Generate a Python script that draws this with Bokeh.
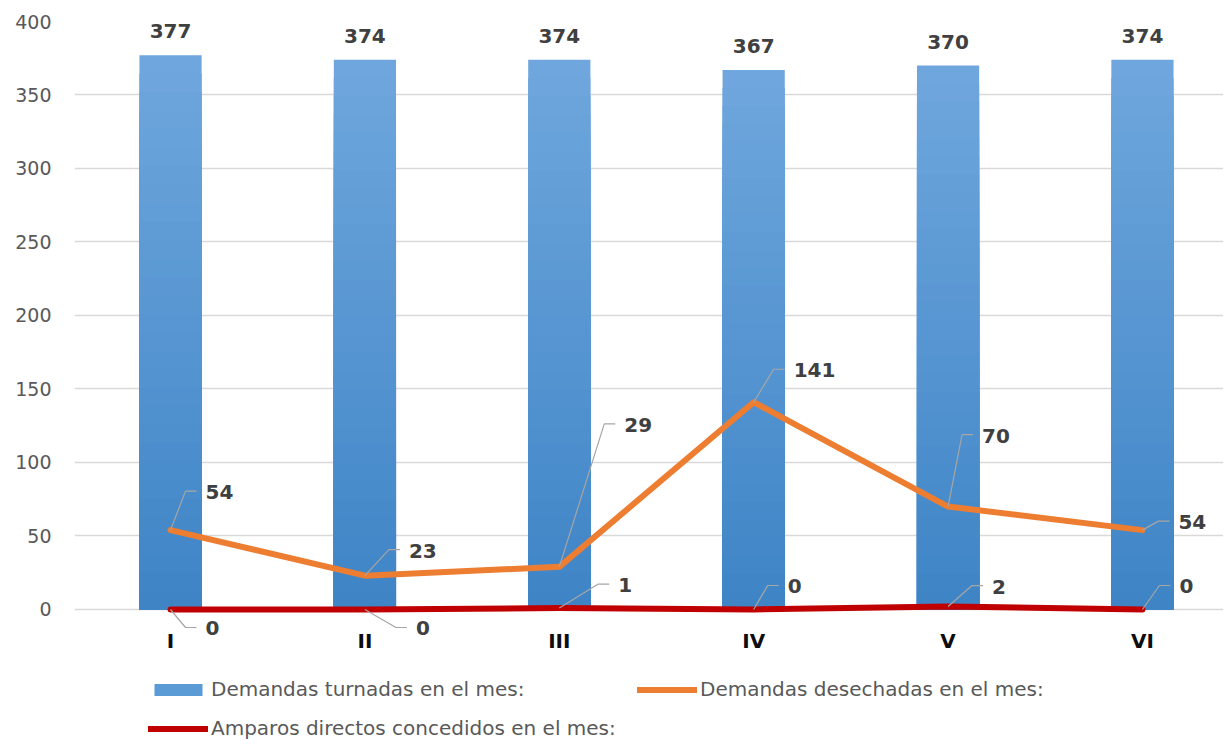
import numpy as np
from bokeh.plotting import figure
from bokeh.layouts import column
from bokeh.models import ColumnDataSource, Legend, LegendItem, FixedTicker, Range1d
from bokeh.core.properties import value
from bokeh.embed import file_html
from bokeh.resources import INLINE

# ---------------- data ----------------
categories = ["I", "II", "III", "IV", "V", "VI"]
turnadas = [377, 374, 374, 367, 370, 374]
desechadas = [54, 23, 29, 141, 70, 54]
amparos = [0, 0, 1, 0, 2, 0]
y_ticks = [0, 50, 100, 150, 200, 250, 300, 350, 400]
series_names = ["Demandas turnadas en el mes:",
                "Demandas desechadas en el mes:",
                "Amparos directos concedidos en el mes:"]

# ---------------- style / label placement (screen px, dx right, dy up) ----------------
des_elbow = [(15, 39), (24, 26), (45, 143), (20, 33), (14, 72), (16, 9)]
amp_elbow = [(15, -18), (31, -18), (39, 24), (14, 24), (24, 21), (17, 24)]
LEADER_LEN = 11
TEXT_GAP = 9
BAR_LABEL_GAP = 24

W = 1223
FRAME_W, FRAME_H = 1149, 617
X0, X1 = -0.494, 5.417
Y0, Y1 = -19.73, 400
PX_X = FRAME_W / (X1 - X0)
PX_Y = FRAME_H / (Y1 - Y0)

FONT = "DejaVu Sans"
TOP_C = np.array([0x6f, 0xa7, 0xdd])
BOT_C = np.array([0x3e, 0x84, 0xc6])
BLUE = "#5b9bd5"
ORANGE = "#ed7d31"
RED = "#c00000"

xs = list(range(len(categories)))

p = figure(width=W, height=658,
           x_range=Range1d(X0, X1), y_range=Range1d(Y0, Y1),
           output_backend="svg", toolbar_location=None,
           min_border_left=74, min_border_top=21, min_border_right=0,
           min_border_bottom=20, outline_line_color=None,
           background_fill_color="white", border_fill_color="white")

# bars with vertical gradient (stacked overlapping bands, tallest first)
N = 30
bx, btop, bcol = [], [], []
for k in range(N):
    t = (k + 0.5) / N
    c = TOP_C * (1 - t) + BOT_C * t
    col = "#%02x%02x%02x" % tuple(int(round(v)) for v in c)
    for i, v in enumerate(turnadas):
        bx.append(xs[i])
        btop.append(v * (1 - k / N))
        bcol.append(col)
bar_src = ColumnDataSource(dict(x=bx, top=btop, color=bcol))
p.vbar(x="x", top="top", bottom=0, width=0.32, fill_color="color",
       line_color=None, source=bar_src)

p.line(xs, desechadas, line_color=ORANGE, line_width=6,
       line_join="round", line_cap="round")
p.line(xs, amparos, line_color=RED, line_width=6,
       line_join="round", line_cap="round")

# leader lines + labels
def leaders(vals, elbows):
    mx, my, tx, ty = [], [], [], []
    for i, v in enumerate(vals):
        ex = xs[i] + elbows[i][0] / PX_X
        ey = v + elbows[i][1] / PX_Y
        endx = ex + LEADER_LEN / PX_X
        mx.append([xs[i], ex, endx])
        my.append([v, ey, ey])
        tx.append(endx + TEXT_GAP / PX_X)
        ty.append(ey - 1 / PX_Y)
    return mx, my, tx, ty

for vals, elbows in ((desechadas, des_elbow), (amparos, amp_elbow)):
    mx, my, tx, ty = leaders(vals, elbows)
    p.multi_line(mx, my, line_color="#a6a6a6", line_width=1.2)
    p.text(tx, ty, text=[str(v) for v in vals], text_font=value(FONT),
           text_font_style="bold", text_font_size="20px", text_color="#404040",
           text_align="left", text_baseline="middle")

p.text(xs, [v + BAR_LABEL_GAP / PX_Y for v in turnadas], text=[str(v) for v in turnadas],
       text_font=value(FONT), text_font_style="bold", text_font_size="20px",
       text_color="#404040", text_align="center", text_baseline="middle")

# axes
p.xaxis.ticker = FixedTicker(ticks=xs)
p.xaxis.major_label_overrides = {i: c for i, c in enumerate(categories)}
p.xaxis.axis_line_color = None
p.xaxis.major_tick_line_color = None
p.xaxis.minor_tick_line_color = None
p.xaxis.major_tick_out = 0
p.xaxis.major_label_standoff = -10
p.xaxis.major_label_text_font = FONT
p.xaxis.major_label_text_font_style = "bold"
p.xaxis.major_label_text_font_size = "20px"
p.xaxis.major_label_text_color = "#0d0d0d"

p.yaxis.ticker = FixedTicker(ticks=y_ticks)
p.yaxis.axis_line_color = None
p.yaxis.major_tick_line_color = None
p.yaxis.minor_tick_line_color = None
p.yaxis.major_tick_out = 0
p.yaxis.major_label_standoff = 23
p.yaxis.major_label_text_font = FONT
p.yaxis.major_label_text_font_style = "normal"
p.yaxis.major_label_text_font_size = "19px"
p.yaxis.major_label_text_color = "#595959"

p.xgrid.grid_line_color = None
p.ygrid.ticker = FixedTicker(ticks=y_ticks)
p.ygrid.grid_line_color = "#d9d9d9"
p.ygrid.grid_line_width = 1.3

# legend strip (separate figure below, same series styles; proxy glyphs draw nothing)
pl = figure(width=W, height=82, x_range=Range1d(0, 1), y_range=Range1d(0, 1),
            output_backend="svg", toolbar_location=None, min_border=0,
            outline_line_color=None, background_fill_color="white",
            border_fill_color="white")
pl.axis.visible = False
pl.grid.visible = False
r_bar = pl.vbar(x=[0.5], top=[0], bottom=[0], width=0.3, fill_color=BLUE, line_color=None)
r_des = pl.line(x=[0.2, 0.8], y=[-50, -50], line_color=ORANGE, line_width=6, line_cap="round")
r_amp = pl.line(x=[0.2, 0.8], y=[-50, -50], line_color=RED, line_width=6, line_cap="round")

legend = Legend(items=[
    LegendItem(label=series_names[0], renderers=[r_bar]),
    LegendItem(label=series_names[1], renderers=[r_des]),
    LegendItem(label=series_names[2], renderers=[r_amp]),
], location=(74, 0), orientation="horizontal", ncols=2,
    padding=0, margin=0, spacing=15, glyph_width=60, glyph_height=15,
    label_height=23, label_width=411, label_standoff=3, label_text_font=FONT,
    label_text_font_size="20px", label_text_color="#595959",
    border_line_color=None, background_fill_alpha=0)
pl.add_layout(legend)

layout = column(p, pl, spacing=0)
open("out.html", "w").write(file_html(layout, INLINE))
